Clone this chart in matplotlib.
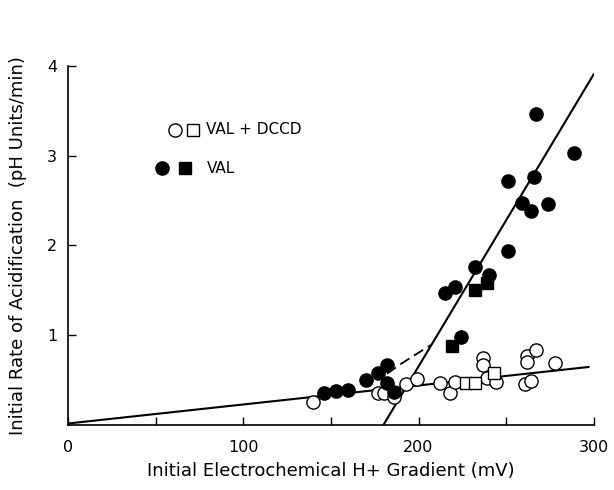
import matplotlib
matplotlib.use('Agg')
import numpy as np
import matplotlib.pyplot as plt


######################################################
# Values (mV, pH units/min)

# VAL, filled circles
val_circ_x = [146, 153, 160, 170, 177, 182, 182, 186, 215, 221, 224, 232, 240,
              251, 251, 259, 264, 266, 267, 274, 289]
val_circ_y = [0.36, 0.38, 0.39, 0.50, 0.58, 0.67, 0.47, 0.37, 1.47, 1.54, 0.98, 1.76, 1.67,
              2.72, 1.94, 2.47, 2.38, 2.76, 3.47, 2.46, 3.03]

# VAL, filled squares
val_sq_x = [219, 232, 239]
val_sq_y = [0.88, 1.50, 1.58]

# VAL + DCCD, open circles
dccd_circ_x = [140, 177, 180, 186, 193, 199, 212, 218, 221, 237, 237, 239, 244,
               261, 262, 262, 264, 267, 278]
dccd_circ_y = [0.26, 0.35, 0.36, 0.31, 0.45, 0.51, 0.47, 0.36, 0.48, 0.75, 0.67, 0.52, 0.48,
               0.45, 0.77, 0.70, 0.49, 0.84, 0.69]

# VAL + DCCD, open squares
dccd_sq_x = [227, 232, 243]
dccd_sq_y = [0.47, 0.47, 0.58]

# fitted lines
shallow_x = [0, 297]
shallow_y = [0.015, 0.645]
steep_x = [180, 300]
steep_y = [0.0, 3.91]
dash_x = [182, 190, 198, 207]
dash_y = [0.57, 0.68, 0.78, 0.89]


######################################################
plt.rcParams['font.family'] = ['DejaVu Sans']
fig = plt.figure(figsize=(6.14, 4.90), dpi=100)
ax = fig.add_axes([0.111, 0.133, 0.856, 0.732])

ax.plot(shallow_x, shallow_y, color='black', lw=1.5, zorder=2)
ax.plot(steep_x, steep_y, color='black', lw=1.5, zorder=2)
ax.plot(dash_x, dash_y, color='black', lw=1.3, ls=(0, (6, 3)), zorder=2)

ax.plot(dccd_circ_x, dccd_circ_y, 'o', ms=9.5, mfc='white', mec='black', mew=1.0, zorder=3)
ax.plot(dccd_sq_x, dccd_sq_y, 's', ms=9, mfc='white', mec='black', mew=1.0, zorder=3)
ax.plot(val_circ_x, val_circ_y, 'o', ms=9.5, mfc='black', mec='black', zorder=4)
ax.plot(val_sq_x, val_sq_y, 's', ms=9, mfc='black', mec='black', zorder=4)

# hand-made legend like the original
ax.plot([61], [3.29], 'o', ms=9.5, mfc='white', mec='black', mew=1.0, clip_on=False)
ax.plot([71], [3.29], 's', ms=9, mfc='white', mec='black', mew=1.0, clip_on=False)
ax.text(78.5, 3.29, 'VAL + DCCD', fontsize=11, va='center', ha='left')
ax.plot([53.5], [2.86], 'o', ms=9.5, mfc='black', mec='black', clip_on=False)
ax.plot([66.5], [2.86], 's', ms=9, mfc='black', mec='black', clip_on=False)
ax.text(79, 2.86, 'VAL', fontsize=11, va='center', ha='left')

ax.set_xlim(0, 300)
ax.set_ylim(0, 4)
ax.set_xticks([0, 100, 200, 300])
ax.set_xticks([50, 150, 250], minor=True)
ax.set_yticks([1, 2, 3, 4])
ax.tick_params(direction='in', length=6, width=1, labelsize=11.5)
ax.tick_params(axis='x', pad=11)
ax.tick_params(axis='y', pad=8)
ax.tick_params(which='minor', direction='in', length=6, width=1)
for s in ['top', 'right']:
    ax.spines[s].set_visible(False)
for s in ['left', 'bottom']:
    ax.spines[s].set_linewidth(1.2)

ax.set_xlabel('Initial Electrochemical H+ Gradient (mV)', fontsize=13, labelpad=5)
ax.set_ylabel('Initial Rate of Acidification  (pH Units/min)', fontsize=13, labelpad=14)

plt.savefig('out.png', dpi=100)
